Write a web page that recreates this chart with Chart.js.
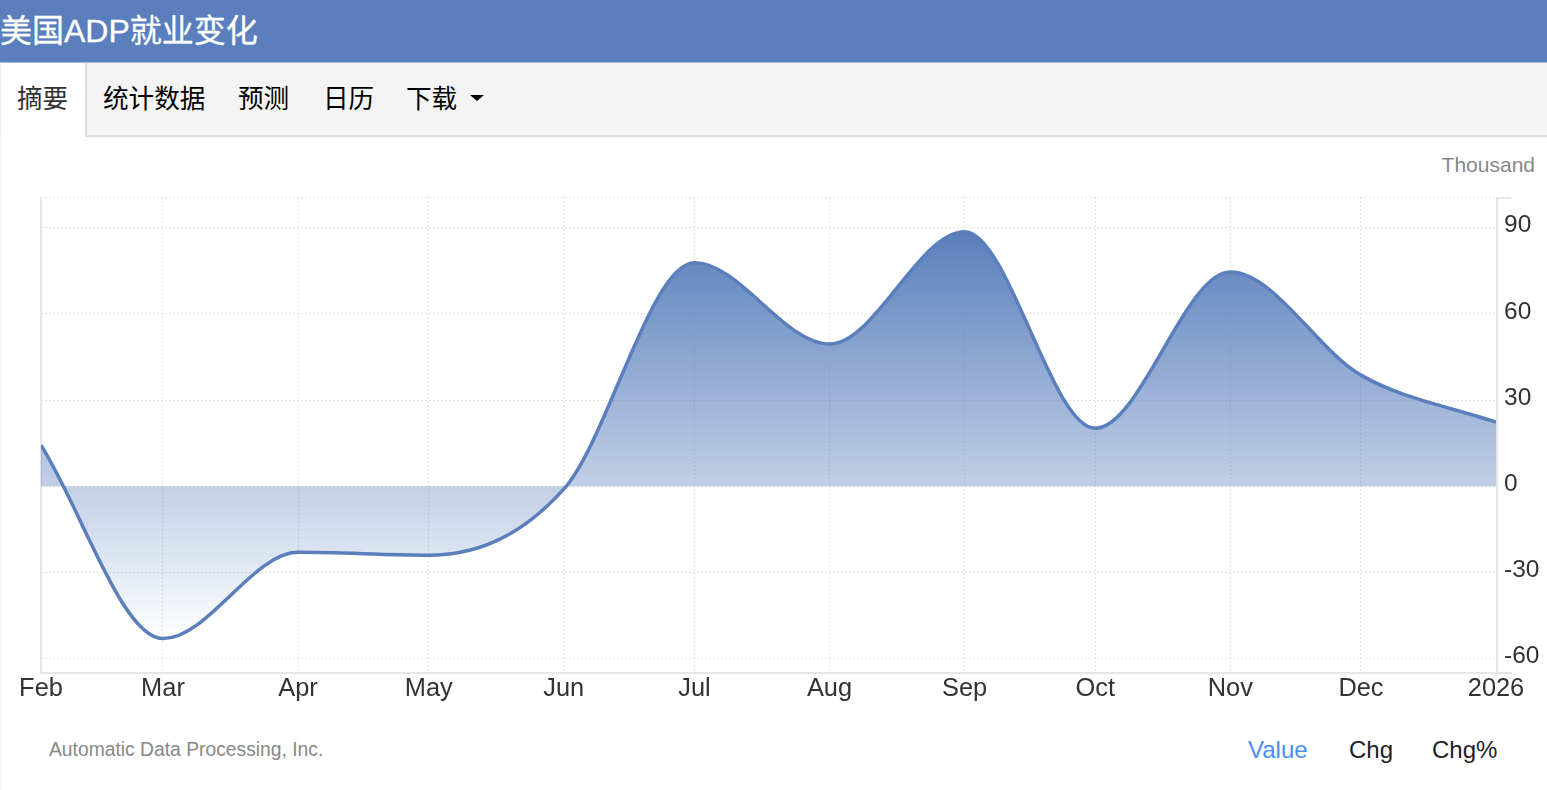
<!DOCTYPE html>
<html>
<head>
<meta charset="utf-8">
<script src="https://cdn.jsdelivr.net/npm/chart.js@4"></script>
<style>
    html, body { margin: 0; padding: 0; background: #fff; overflow: hidden; }
    body { width: 1547px; height: 790px; position: relative; font-family: "Liberation Sans", "Noto Sans CJK SC", sans-serif; }
    .title { position: absolute; left: 0; top: 0; width: 100%; height: 62px; line-height: 62px; background: #5a7fbc; color: #fff; font-size: 32px; border-bottom: 1px solid #a9bcd9; -webkit-text-stroke: 0.3px #fff; }
    .tabs { position: absolute; left: 0; top: 63px; width: 100%; height: 72px; background: #f4f4f4; border-bottom: 2px solid #dcdcdc; }
    .tabs span { position: absolute; top: 1px; line-height: 70px; font-size: 25.6px; color: #000; white-space: nowrap; }
    .tabs .active { left: 0; top: 0; width: 87px; height: 74px; line-height: 72px; background: #fff; border-right: 2px solid #dcdcdc; border-left: 1px solid #eee; box-sizing: border-box; padding-left: 16px; color: #333; }
    .caret { position: absolute; left: 470px; top: 32px; border-left: 7px solid transparent; border-right: 7px solid transparent; border-top: 6px solid #000; }
    .edge { position: absolute; left: 0; top: 137px; width: 1px; height: 653px; background: #f0f0f0; }
    .unit { position: absolute; right: 12px; top: 153px; font-size: 21px; color: #888; }
    canvas { position: absolute; left: 0; top: 137px; }
    .source { position: absolute; left: 49px; top: 739px; font-size: 19.3px; color: #888; }
    .switch { position: absolute; top: 736px; font-size: 24px; color: #222; }
</style>
</head>
<body>
<div class="title">美国ADP就业变化</div>
<div class="tabs">
    <span class="active">摘要</span>
    <span style="left:103px">统计数据</span>
    <span style="left:238px">预测</span>
    <span style="left:323px">日历</span>
    <span style="left:406px">下载</span>
    <i class="caret"></i>
</div>
<div class="edge"></div>
<div class="unit">Thousand</div>
<canvas id="adpChart" width="1547" height="580" style="width:1547px;height:580px"></canvas>
<div class="source">Automatic Data Processing, Inc.</div>
<div class="switch" style="left:1248px;color:#4a8fef">Value</div>
<div class="switch" style="left:1349px">Chg</div>
<div class="switch" style="left:1432px">Chg%</div>

<script>
const dates = ['2025-02-01', '2025-03-01', '2025-04-01', '2025-05-01', '2025-06-01', '2025-07-01',
    '2025-08-01', '2025-09-01', '2025-10-01', '2025-11-01', '2025-12-01', '2026-01-01'];
const xLabels = ['Feb', 'Mar', 'Apr', 'May', 'Jun', 'Jul', 'Aug', 'Sep', 'Oct', 'Nov', 'Dec', '2026'];
const values = [14.3, -53, -23, -24, -1, 77.8, 49.5, 88.6, 20.2, 74.6, 38.7, 22.3];
const yTicks = [-60, -30, 0, 30, 60, 90];

const times = dates.map(d => Date.parse(d));
const lineColor = '#5a7fbc';
const gridColor = '#e2e2e2';
const frameColor = '#e6e6e6';

// light frame round the plot, the axis lines stick out a bit on the right
const framePlugin = {
    id: 'frame',
    beforeDatasetsDraw(chart) {
        const a = chart.chartArea, ctx = chart.ctx;
        ctx.save();
        ctx.strokeStyle = gridColor;
        ctx.setLineDash([2, 2]);
        ctx.beginPath();
        ctx.moveTo(a.left, a.top + 0.5);
        ctx.lineTo(a.right, a.top + 0.5);
        ctx.stroke();
        ctx.setLineDash([]);
        ctx.strokeStyle = frameColor;
        ctx.lineWidth = 2;
        ctx.beginPath();
        ctx.moveTo(a.left, a.top);
        ctx.lineTo(a.left, a.bottom);
        ctx.lineTo(a.right + 16, a.bottom);
        ctx.moveTo(a.right + 1, a.top);
        ctx.lineTo(a.right + 1, a.bottom);
        ctx.moveTo(a.right + 1, a.top + 1);
        ctx.lineTo(a.right + 15, a.top + 1);
        ctx.stroke();
        ctx.restore();
    }
};

function fillGradient(context) {
    const chart = context.chart;
    if (!chart.chartArea) return 'rgba(90,127,188,0.5)';
    const y = chart.scales.y;
    const g = chart.ctx.createLinearGradient(0, y.getPixelForValue(Math.max(...values)), 0, y.getPixelForValue(Math.min(...values)));
    g.addColorStop(0, 'rgba(90,127,188,1)');
    g.addColorStop(1, 'rgba(90,127,188,0)');
    return g;
}

new Chart(document.getElementById('adpChart').getContext('2d'), {
    type: 'line',
    plugins: [framePlugin],
    data: {
        datasets: [{
            data: times.map((t, i) => ({ x: t, y: values[i] })),
            borderColor: lineColor,
            borderWidth: 3.5,
            backgroundColor: fillGradient,
            fill: 'origin',
            cubicInterpolationMode: 'monotone',
            pointRadius: 0
        }]
    },
    options: {
        responsive: false,
        animation: false,
        layout: { padding: { left: 41, top: 60, right: 0, bottom: 0 } },
        plugins: { legend: { display: false }, tooltip: { enabled: false } },
        scales: {
            x: {
                type: 'linear',
                min: times[0],
                max: times[times.length - 1],
                afterBuildTicks: axis => { axis.ticks = times.map(t => ({ value: t })); },
                afterFit: axis => { axis.height = 44; },
                border: { display: false, dash: [2, 2] },
                grid: { color: gridColor, drawTicks: false },
                ticks: {
                    autoSkip: false,
                    maxRotation: 0,
                    padding: 1,
                    color: '#333',
                    font: { family: 'Liberation Sans', size: 25.4 },
                    callback: value => xLabels[times.indexOf(value)]
                }
            },
            y: {
                position: 'right',
                min: -65,
                max: 100.7,
                afterBuildTicks: axis => { axis.ticks = yTicks.map(v => ({ value: v })); },
                afterFit: axis => { axis.width = 51; },
                border: { display: false, dash: [2, 2] },
                grid: { color: gridColor, tickColor: gridColor, tickLength: 5, tickBorderDash: [2, 2] },
                ticks: {
                    padding: 3,
                    labelOffset: -2,
                    color: '#333',
                    font: { family: 'Liberation Sans', size: 24.5 },
                    callback: value => String(value)
                }
            }
        }
    }
});
</script>
</body>
</html>
